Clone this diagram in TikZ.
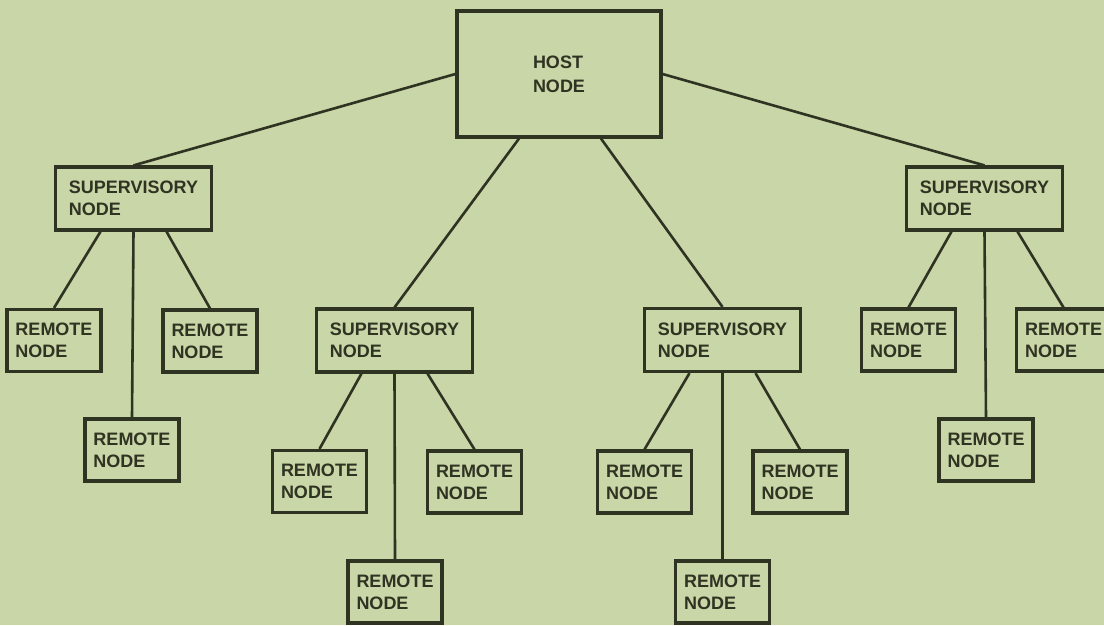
\documentclass[tikz,border=0pt]{standalone}
\usepackage{fontspec}
\setmainfont{Liberation Sans}
\usepackage{tikz}
\usetikzlibrary{positioning}
\definecolor{paper}{HTML}{C9D6A8}
\definecolor{ink}{HTML}{2F3321}

\begin{document}
\begin{tikzpicture}[x=1pt,y=-1pt,box/.style={draw=ink,line width=3.2pt,align=left,inner sep=0pt,text=ink,font=\fontsize{18}{22}\selectfont\bfseries},host/.style={box,minimum width=204,minimum height=126,font=\fontsize{18}{24}\selectfont\bfseries},sup/.style={box,minimum width=156,minimum height=63},remote/.style={box,minimum width=94,minimum height=62},link/.style={draw=ink,line width=2.6pt}]
    \fill[paper] (0,0) rectangle (1104,625);
    \useasboundingbox (0,0) rectangle (1104,625);
    \node[host] (hn) at (559,74) {HOST\\NODE};
    \node[sup] (s1) at (133.5,198.5) {SUPERVISORY\\NODE};
    \node[sup] (s2) at (394.5,340.5) {SUPERVISORY\\NODE};
    \node[sup] (s3) at (722.5,340) {SUPERVISORY\\NODE};
    \node[sup] (s4) at (984.5,198.5) {SUPERVISORY\\NODE};
    \node[remote] (s1a) at (54,340.5) {REMOTE\\NODE};
    \node[remote] (s1b) at (132,450) {REMOTE\\NODE};
    \node[remote] (s1c) at (210,341) {REMOTE\\NODE};
    \node[remote] (s2a) at (319.5,481.5) {REMOTE\\NODE};
    \node[remote] (s2b) at (395,592) {REMOTE\\NODE};
    \node[remote] (s2c) at (474.5,482) {REMOTE\\NODE};
    \node[remote] (s3a) at (644.5,482) {REMOTE\\NODE};
    \node[remote] (s3b) at (722.5,592) {REMOTE\\NODE};
    \node[remote] (s3c) at (800,482) {REMOTE\\NODE};
    \node[remote] (s4a) at (908.5,340) {REMOTE\\NODE};
    \node[remote] (s4b) at (986,450) {REMOTE\\NODE};
    \node[remote] (s4c) at (1063.5,340) {REMOTE\\NODE};
    \draw[link] (hn.west)--(s1.north);
    \draw[link] ([xshift=-40]hn.south)--(s2.north);
    \draw[link] ([xshift=42]hn.south)--(s3.north);
    \draw[link] (hn.east)--(s4.north);
    \foreach \s in {s1,s2,s3,s4}{
      \draw[link] ([xshift=-33]\s.south)--(\s a.north);
      \draw[link] (\s.south)--(\s b.north);
      \draw[link] ([xshift=33]\s.south)--(\s c.north);
    }
  \end{tikzpicture}
\end{document}
